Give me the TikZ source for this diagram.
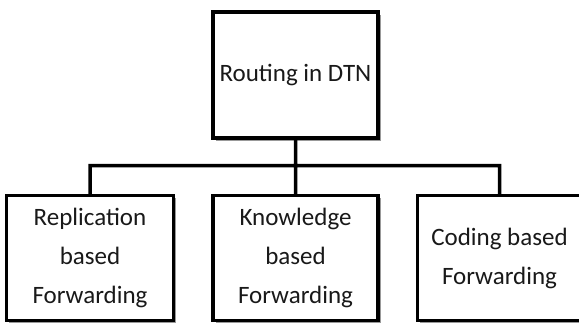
\documentclass[tikz,border=0pt]{standalone}
\usepackage{fontspec}
\setmainfont{Carlito}
\usepackage{tikz}
\usetikzlibrary{positioning}
\usetikzlibrary{calc}
\usetikzlibrary{shadows}

\tikzset{
	treebox/.style={draw=black, line width=3.5pt, fill=white, align=center,
		inner sep=0pt, text=black!90,
		font=\fontsize{25}{39}\selectfont,
		drop shadow={shadow xshift=2.5pt, shadow yshift=-2.5pt, fill=black!50, opacity=0.8}},
	link/.style={draw=black, line width=3.5pt}
}

\begin{document}
\begin{tikzpicture}[x=1pt, y=1pt, node distance=54pt]

	\useasboundingbox (0,0) rectangle (579,-325);

	\node[treebox, minimum width=165pt, minimum height=126pt] (root) at (295.5,-75) {Routing in DTN};
	
	\node[treebox, minimum width=165pt, minimum height=125pt, below=of root] (know) {Knowledge\\based\\Forwarding};
	\node[treebox, minimum width=167pt, minimum height=125pt, left=36pt of know] (repl) {Replication\\based\\Forwarding};
	\node[treebox, minimum width=164pt, minimum height=125pt, right=36pt of know] (code) {Coding based\\Forwarding};
	
	\coordinate (fork) at ($(root.south)!0.48!(know.north)$);
	
	\draw[link]
	(root.south) -- (fork)
	(fork) -| (repl.north)
	(fork) -| (code.north)
	(fork) -- (know.north);

\end{tikzpicture}
\end{document}
